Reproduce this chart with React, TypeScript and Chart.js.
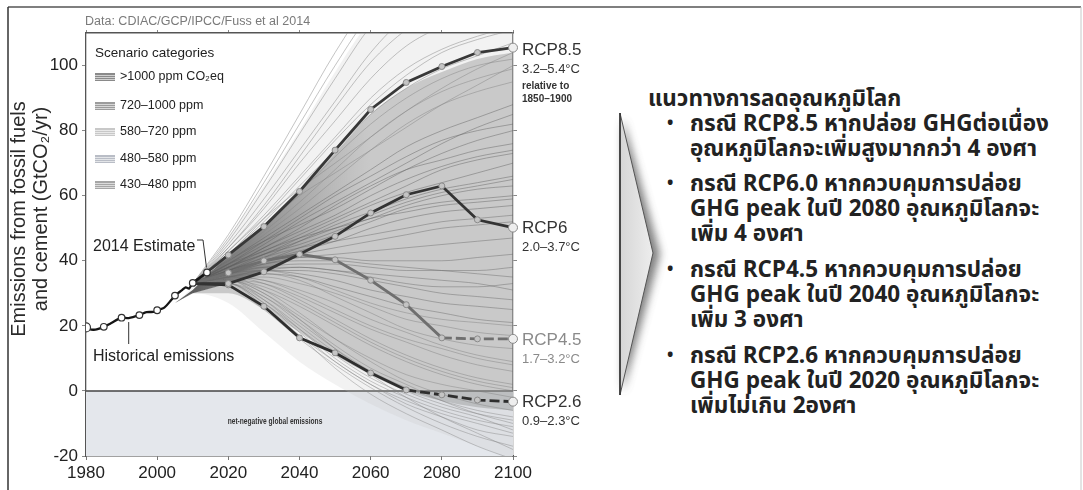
import React, { useEffect, useRef } from 'react';
import { Chart, registerables } from 'chart.js';

Chart.register(...registerables);

// ---------------- data ----------------
const histYears = [1980, 1981, 1982, 1983, 1985, 1987, 1990, 1992, 1995, 1997, 1999, 2000, 2002, 2004, 2005, 2007, 2008, 2009, 2010, 2012, 2014];
const histValues = [19.5, 19.0, 18.8, 18.9, 19.7, 20.8, 22.5, 22.4, 23.3, 24.2, 24.3, 24.8, 25.6, 28.0, 29.3, 31.0, 31.8, 31.5, 33.2, 34.8, 36.4];
const histMarkerYears = [1980, 1985, 1990, 1995, 2000, 2005, 2010, 2014];

const rcpYears = [2010, 2020, 2030, 2040, 2050, 2060, 2070, 2080, 2090, 2100];
const rcp85 = [33, 41.8, 50.5, 61.3, 74, 86.5, 94.8, 99.7, 104, 105.5];
const rcp6 = [33, 33, 36.6, 42, 47.5, 54.7, 60.3, 63, 52.6, 50.2];
const rcp45 = [33, 36.3, 40, 42, 40.3, 34, 26.5, 16.3, 16, 16];
const rcp26 = [33, 32.6, 26, 16.3, 11.7, 5.5, 0.3, -1.2, -2.8, -3.3];

const bandYears = [2005, 2010, 2020, 2030, 2040, 2050, 2060, 2070, 2080, 2090, 2100];
const outerUpper = [27, 32, 47, 63, 80, 98, 114, 124, 130, 134, 137];
const outerLower = [27, 30, 27, 18, 9, 2, -4, -9, -13, -17, -21];
const coreUpper = [27, 31, 42, 51, 61, 73, 85, 93, 98, 102, 104];
const coreLower = [27, 30, 30, 25, 18, 11, 5, 0, -3, -5, -6];

const wedgeYears = [2005, 2010, 2020, 2030, 2040, 2050, 2060];
const wedgeUpper = [27, 31, 41.8, 50.5, 61.3, 74, 86.5];
const wedgeLower = [27, 30, 33, 36.6, 42, 47.5, 54.7];

const scenYears = [2010, 2020, 2030, 2040, 2050, 2060, 2070, 2080, 2090, 2100];
const scen1000 = [
  [33, 48, 66, 85, 104, 120, 130, 135, 138, 140],
  [33, 47, 64, 82, 100, 116, 126, 132, 135, 137],
  [33, 46, 62, 79, 96, 112, 122, 128, 131, 133],
  [33, 45, 59, 74, 89, 104, 115, 121, 124, 126],
  [33, 44, 57, 72, 87, 101, 111, 117, 121, 123],
  [33, 44, 56, 70, 83, 96, 106, 112, 116, 118],
  [33, 43, 54, 66, 78, 90, 99, 105, 109, 112],
  [33, 42, 53, 65, 77, 88, 97, 104, 108, 111],
  [33, 42, 52, 63, 74, 85, 93, 99, 103, 107],
  [33, 43, 53, 62, 70, 78, 86, 93, 99, 104],
  [33, 41, 50, 61, 72, 82, 90, 96, 100, 102],
  [33, 41, 49, 58, 68, 78, 86, 92, 96, 99],
  [33, 42, 51, 60, 67, 74, 81, 88, 94, 100],
  [33, 40, 48, 56, 65, 74, 82, 88, 92, 95],
];
const scen720 = [
  [33, 40, 47, 54, 61, 68, 75, 80, 84, 88],
  [33, 39, 46, 53, 60, 66, 72, 77, 80, 82],
  [33, 39, 45, 52, 58, 64, 70, 76, 81, 85],
  [33, 40, 46, 51, 56, 62, 68, 73, 77, 80],
  [33, 38, 44, 50, 57, 63, 68, 71, 74, 76],
  [33, 38, 44, 49, 54, 60, 65, 69, 72, 74],
  [33, 39, 43, 48, 53, 58, 63, 68, 71, 73],
  [33, 38, 42, 47, 52, 57, 61, 64, 67, 70],
  [33, 37, 41, 46, 51, 55, 59, 62, 64, 66],
  [33, 37, 42, 46, 50, 54, 58, 61, 63, 65],
  [33, 38, 43, 47, 50, 53, 57, 60, 62, 63],
  [33, 37, 40, 44, 48, 52, 56, 58, 59, 60],
  [33, 38, 42, 45, 49, 53, 55, 57, 58, 59],
  [33, 36, 40, 43, 46, 50, 53, 55, 56, 57],
];
const scen580 = [
  [33, 37, 41, 44, 46, 48, 50, 52, 53, 54],
  [33, 37, 40, 42, 44, 46, 48, 50, 51, 52],
  [33, 36, 39, 41, 42, 43, 44, 45, 46, 47],
  [33, 37, 40, 41, 41, 40, 40, 40, 41, 42],
  [33, 36, 39, 40, 40, 39, 38, 37, 36, 35],
  [33, 36, 38, 39, 39, 38, 37, 37, 37, 38],
  [33, 36, 38, 38, 37, 35, 33, 32, 32, 33],
  [33, 35, 37, 38, 37, 36, 35, 34, 33, 31],
  [33, 35, 37, 37, 36, 34, 32, 30, 29, 28],
  [33, 36, 37, 36, 34, 31, 29, 27, 26, 25],
  [33, 35, 36, 35, 32, 29, 26, 24, 22, 21],
];
const scen480 = [
  [33, 36, 37, 35, 31, 27, 24, 22, 21, 20],
  [33, 35, 35, 33, 30, 26, 22, 20, 18, 17],
  [33, 36, 36, 34, 29, 24, 19, 16, 14, 13],
  [33, 35, 34, 31, 27, 22, 18, 14, 11, 9],
  [33, 35, 34, 30, 25, 20, 16, 13, 10, 8],
  [33, 34, 33, 29, 24, 19, 15, 11, 8, 6],
  [33, 35, 33, 28, 22, 16, 11, 7, 4, 2],
  [33, 34, 32, 27, 21, 15, 10, 6, 3, 1],
  [33, 34, 31, 26, 20, 14, 9, 5, 2, 0],
];
const scen430 = [
  [33, 34, 30, 23, 16, 10, 5, 2, 0, -2],
  [33, 35, 31, 24, 16, 9, 3, -1, -4, -6],
  [33, 33, 28, 20, 12, 6, 1, -3, -6, -8],
  [33, 33, 29, 21, 13, 6, 0, -4, -7, -9],
  [33, 34, 28, 19, 10, 3, -2, -6, -9, -11],
  [33, 33, 27, 19, 11, 4, -1, -5, -8, -12],
  [33, 32, 26, 17, 9, 2, -3, -7, -10, -13],
  [33, 33, 27, 18, 9, 2, -4, -8, -12, -14],
  [33, 32, 25, 16, 8, 1, -5, -10, -14, -17],
  [33, 34, 30, 22, 13, 5, -2, -8, -13, -18],
  [33, 33, 26, 17, 7, -1, -7, -12, -17, -21],
  [33, 34, 29, 22, 14, 7, 2, -3, -7, -10],
];

const xTicks = [1980, 2000, 2020, 2040, 2060, 2080, 2100];
const yTicks = [-20, 0, 20, 40, 60, 80, 100];

const legendTitle = 'Scenario categories';
const legendItems = ['>1000 ppm CO\u2082eq', '720\u20131000 ppm', '580\u2013720 ppm', '480\u2013580 ppm', '430\u2013480 ppm'];

const rcpLabels = [
  { name: 'RCP8.5', range: '3.2\u20135.4\u00B0C' },
  { name: 'RCP6', range: '2.0\u20133.7\u00B0C' },
  { name: 'RCP4.5', range: '1.7\u20133.2\u00B0C' },
  { name: 'RCP2.6', range: '0.9\u20132.3\u00B0C' },
];

const thaiTitle = 'แนวทางการลดอุณหภูมิโลก';
const thaiBullets = [
  ['กรณี RCP8.5 หากปล่อย GHGต่อเนื่อง', 'อุณหภูมิโลกจะเพิ่มสูงมากกว่า 4 องศา'],
  ['กรณี RCP6.0 หากควบคุมการปล่อย', 'GHG peak ในปี 2080 อุณหภูมิโลกจะ', 'เพิ่ม 4 องศา'],
  ['กรณี RCP4.5 หากควบคุมการปล่อย', 'GHG peak ในปี 2040 อุณหภูมิโลกจะ', 'เพิ่ม 3 องศา'],
  ['กรณี RCP2.6 หากควบคุมการปล่อย', 'GHG peak ในปี 2020 อุณหภูมิโลกจะ', 'เพิ่มไม่เกิน 2องศา'],
];

// ---------------- helpers ----------------
const FONT = '"Liberation Sans", Arial, Helvetica, sans-serif';
const NARROW = '"Liberation Sans Narrow", "Liberation Sans", Arial, sans-serif';
const THAI = 'Tahoma, "Noto Sans Thai", "Noto Sans Thai UI", "Noto Looped Thai", Loma, Garuda, "Noto Sans", sans-serif';

const xy = (xs: number[], ys: number[]) => xs.map((x, i) => ({ x, y: ys[i] }));

const annotations = {
  id: 'annotations',
  beforeDatasetsDraw(chart: any) {
    const { ctx, chartArea: a, scales } = chart;
    const y0 = scales.y.getPixelForValue(0);
    ctx.save();
    ctx.fillStyle = '#e4e7ec';
    ctx.fillRect(a.left, y0, a.right - a.left, a.bottom - y0);
    ctx.strokeStyle = '#444';
    ctx.lineWidth = 1.5;
    ctx.beginPath();
    ctx.moveTo(a.left, y0);
    ctx.lineTo(a.right, y0);
    ctx.stroke();
    ctx.restore();
  },
  afterDraw(chart: any) {
    const { ctx, chartArea: a, scales } = chart;
    const X = (v: number) => scales.x.getPixelForValue(v);
    const Y = (v: number) => scales.y.getPixelForValue(v);
    ctx.save();
    ctx.textBaseline = 'middle';

    // data source
    ctx.fillStyle = '#7a7a7a';
    ctx.font = `12.5px ${NARROW}`;
    ctx.textAlign = 'left';
    ctx.fillText('Data: CDIAC/GCP/IPCC/Fuss et al 2014', 85, 22);

    // y title
    ctx.fillStyle = '#2a2a2a';
    ctx.font = `20px ${FONT}`;
    ctx.textAlign = 'center';
    ctx.save();
    ctx.translate(19, 219);
    ctx.rotate(-Math.PI / 2);
    ctx.fillText('Emissions from fossil fuels', 0, 0);
    ctx.restore();
    ctx.save();
    ctx.translate(41, 209);
    ctx.rotate(-Math.PI / 2);
    ctx.fillText('and cement (GtCO\u2082/yr)', 0, 0);
    ctx.restore();

    // legend
    ctx.textAlign = 'left';
    ctx.fillStyle = '#222';
    ctx.font = `13.5px ${FONT}`;
    ctx.fillText(legendTitle, 95, 53);
    const swatch = ['#8a8a8a', '#9c9c9c', '#c8c8c8', '#b9bdc6', '#a6a6a6'];
    const itemY = [77, 106, 132, 159, 185];
    ctx.font = `12.5px ${FONT}`;
    legendItems.forEach((t, i) => {
      const yy = itemY[i];
      ctx.fillStyle = swatch[i];
      ctx.fillRect(95, yy - 4, 20, 8);
      ctx.strokeStyle = 'rgba(255,255,255,0.6)';
      ctx.lineWidth = 1;
      for (let k = -2; k <= 2; k += 2) {
        ctx.beginPath();
        ctx.moveTo(95, yy + k + 0.5);
        ctx.lineTo(115, yy + k + 0.5);
        ctx.stroke();
      }
      ctx.fillStyle = '#222';
      ctx.fillText(t, 120, yy);
    });

    // 2014 estimate
    ctx.font = `16px ${FONT}`;
    ctx.fillStyle = '#222';
    ctx.fillText('2014 Estimate', 93, 247);
    ctx.strokeStyle = '#333';
    ctx.lineWidth = 1;
    ctx.beginPath();
    ctx.moveTo(197, 240);
    ctx.lineTo(203, 240);
    ctx.lineTo(X(2014) - 0.5, Y(36.4) - 5);
    ctx.stroke();

    // historical emissions
    ctx.fillText('Historical emissions', 93, 357);
    ctx.beginPath();
    ctx.moveTo(X(1992), Y(22.4) + 4);
    ctx.lineTo(X(1992), 344);
    ctx.stroke();

    // net negative
    ctx.save();
    ctx.translate(275, 422);
    ctx.scale(0.78, 1);
    ctx.font = `bold 8.5px ${NARROW}`;
    ctx.textAlign = 'center';
    ctx.fillStyle = '#333';
    ctx.fillText('net-negative global emissions', 0, 0);
    ctx.restore();

    // RCP labels
    ctx.textAlign = 'left';
    const x0 = a.right + 9;
    const labelY = [50, 228, 340, 402];
    rcpLabels.forEach((r, i) => {
      ctx.fillStyle = i === 2 ? '#8a8a8a' : '#333';
      ctx.font = `17px ${FONT}`;
      ctx.fillText(r.name, x0, labelY[i]);
      ctx.font = `13px ${FONT}`;
      ctx.fillText(r.range, x0, labelY[i] + 19);
    });
    ctx.fillStyle = '#333';
    ctx.font = `bold 10px ${NARROW}`;
    ctx.fillText('relative to', x0, 86);
    ctx.fillText('1850\u20131900', x0, 99);
    ctx.restore();
  },
};

export default function App() {
  const ref = useRef<HTMLCanvasElement | null>(null);

  useEffect(() => {
    if (!ref.current) return;
    const datasets: any[] = [];

    datasets.push({
      data: xy(histYears, histValues),
      borderColor: '#151515',
      borderWidth: 2.3,
      pointRadius: histYears.map((y) => (histMarkerYears.includes(y) ? (y === 1980 ? 4.5 : 3.3) : 0)),
      pointBackgroundColor: '#ffffff',
      pointBorderColor: '#333',
      pointBorderWidth: 1.2,
      tension: 0.3,
      fill: false,
      order: 0,
    });

    const rcpStyle = (vals: number[], color: string, dashFrom: number | null) => ({
      data: xy(rcpYears, vals),
      borderColor: color,
      borderWidth: 2.8,
      pointRadius: rcpYears.map((_, i) => (i === 0 ? 0 : i === rcpYears.length - 1 ? 4.5 : 3)),
      pointBackgroundColor: rcpYears.map((_, i) => (i === rcpYears.length - 1 ? '#eeeeee' : '#c4c4c4')),
      pointBorderColor: '#8a8a8a',
      pointBorderWidth: 1,
      tension: 0,
      fill: false,
      order: 1,
      clip: false,
      segment: dashFrom === null ? undefined : {
        borderDash: (c: any) => (c.p0.parsed.x >= dashFrom ? [10, 4] : undefined),
      },
    });
    datasets.push(rcpStyle(rcp85, '#383838', null));
    datasets.push(rcpStyle(rcp6, '#333333', null));
    datasets.push(rcpStyle(rcp45, '#6f6f6f', 2080));
    datasets.push(rcpStyle(rcp26, '#2e2e2e', 2070));

    const scenGroups: [number[][], string][] = [
      [scen1000, 'rgba(135,135,135,0.55)'],
      [scen720, 'rgba(95,95,95,0.5)'],
      [scen580, 'rgba(105,105,105,0.5)'],
      [scen480, 'rgba(120,120,120,0.45)'],
      [scen430, 'rgba(125,125,125,0.45)'],
    ];
    scenGroups.forEach(([lines, color]) => {
      lines.forEach((vals) => {
        datasets.push({
          data: xy(scenYears, vals),
          borderColor: color,
          borderWidth: 0.9,
          pointRadius: 0,
          cubicInterpolationMode: 'monotone',
          fill: false,
          order: 5,
        });
      });
    });

    const addBand = (xs: number[], lo: number[], hi: number[], color: any, order: number) => {
      const loIdx = datasets.length;
      datasets.push({ data: xy(xs, lo), borderWidth: 0, pointRadius: 0, fill: false, order, cubicInterpolationMode: 'monotone' });
      datasets.push({
        data: xy(xs, hi),
        borderWidth: 0,
        pointRadius: 0,
        order,
        cubicInterpolationMode: 'monotone',
        backgroundColor: color,
        fill: { target: loIdx, above: color, below: color },
      });
    };
    addBand(bandYears, outerLower, outerUpper, 'rgba(195,195,195,0.22)', 12);
    addBand(bandYears, coreLower, coreUpper, 'rgba(140,140,140,0.4)', 11);
    const wedgeColor = (c: any) => {
      const chart = c.chart;
      if (!chart.chartArea) return 'rgba(80,80,80,0.4)';
      const xa = chart.scales.x.getPixelForValue(2005);
      const xb = chart.scales.x.getPixelForValue(2060);
      const g = chart.ctx.createLinearGradient(xa, 0, xb, 0);
      g.addColorStop(0, 'rgba(45,45,45,0.8)');
      g.addColorStop(0.35, 'rgba(75,75,75,0.55)');
      g.addColorStop(1, 'rgba(120,120,120,0)');
      return g;
    };
    const wLo = datasets.length;
    datasets.push({ data: xy(wedgeYears, wedgeLower), borderWidth: 0, pointRadius: 0, fill: false, order: 10 });
    datasets.push({
      data: xy(wedgeYears, wedgeUpper),
      borderWidth: 0,
      pointRadius: 0,
      order: 10,
      backgroundColor: wedgeColor,
      fill: { target: wLo, above: wedgeColor, below: wedgeColor },
    });

    const tickFont = { family: FONT, size: 17 };
    const chart = new Chart(ref.current, {
      type: 'line',
      data: { datasets },
      plugins: [annotations],
      options: {
        animation: false,
        responsive: false,
        events: [],
        layout: { padding: { left: 0, right: 99, top: 27, bottom: 4 } },
        plugins: { legend: { display: false }, tooltip: { enabled: false } },
        scales: {
          x: {
            type: 'linear', min: 1980, max: 2100, position: 'bottom',
            afterBuildTicks: (s: any) => { s.ticks = xTicks.map((v) => ({ value: v })); },
            afterFit: (s: any) => { s.height = 30; },
            ticks: { font: tickFont, color: '#222', padding: 3, maxRotation: 0, autoSkip: false, callback: (v: any) => String(v) },
            grid: { drawOnChartArea: false, drawTicks: true, tickLength: 4, color: '#777' },
            border: { display: true, color: '#444', width: 1.5 },
          },
          x2: {
            type: 'linear', min: 1980, max: 2100, position: 'top',
            afterBuildTicks: (s: any) => { s.ticks = xTicks.map((v) => ({ value: v })); },
            afterFit: (s: any) => { s.height = 6; },
            ticks: { display: false },
            grid: { drawOnChartArea: false, drawTicks: true, tickLength: 3, color: '#888' },
            border: { display: true, color: '#555', width: 1.5 },
          },
          y: {
            type: 'linear', min: -20, max: 110, position: 'left',
            afterBuildTicks: (s: any) => { s.ticks = yTicks.map((v) => ({ value: v })); },
            afterFit: (s: any) => { s.width = 86; },
            ticks: { font: tickFont, color: '#222', padding: 4, callback: (v: any) => String(v) },
            grid: { drawOnChartArea: false, drawTicks: true, tickLength: 4, color: '#888' },
            border: { display: true, color: '#555', width: 1.3 },
          },
          y2: {
            type: 'linear', min: -20, max: 110, position: 'right',
            afterBuildTicks: (s: any) => { s.ticks = yTicks.map((v) => ({ value: v })); },
            afterFit: (s: any) => { s.width = 8; },
            ticks: { display: false },
            grid: { drawOnChartArea: false, drawTicks: true, tickLength: 4, color: '#888' },
            border: { display: true, color: '#777', width: 1.3 },
          },
        },
      } as any,
    });
    return () => chart.destroy();
  }, []);

  const titleCenter = 99;
  const bulletCenters = [124, 184, 270, 356];
  const lineH = 25;

  return (
    <div style={{ position: 'absolute', left: 0, top: 0, width: 1083, height: 490, background: '#fff', overflow: 'hidden' }}>
      <svg width={1083} height={490} style={{ position: 'absolute', left: 0, top: 0 }}>
        <defs>
          <filter id="arrowShadow" x="-100%" y="-20%" width="300%" height="140%">
            <feGaussianBlur stdDeviation="4" />
          </filter>
          <linearGradient id="arrowFill" x1="0" x2="1" y1="0" y2="0">
            <stop offset="0" stopColor="#d6d6d6" />
            <stop offset="1" stopColor="#ededed" />
          </linearGradient>
        </defs>
        <line x1={8} y1={7} x2={1081} y2={7} stroke="#555" strokeWidth={1.5} />
        <line x1={8} y1={7} x2={8} y2={490} stroke="#333" strokeWidth={1.5} />
        <line x1={1081} y1={7} x2={1081} y2={490} stroke="#c8c8c8" strokeWidth={1} />
        <polygon points="623,118 660,254 623,392" fill="#555" opacity={0.75} filter="url(#arrowShadow)" />
        <polygon points="620,113 653,253 620,395" fill="url(#arrowFill)" stroke="#555" strokeWidth={1} />
        <line x1={620} y1={113} x2={620} y2={395} stroke="#333" strokeWidth={1.6} />
      </svg>
      <canvas ref={ref} width={620} height={490} style={{ position: 'absolute', left: 0, top: 0, width: 620, height: 490 }} />
      <div style={{ position: 'absolute', left: 0, top: 0, fontFamily: THAI, fontWeight: 'bold', color: '#222', fontSize: 22.5, whiteSpace: 'nowrap' }}>
        <div style={{ position: 'absolute', left: 648, top: titleCenter - lineH / 2, lineHeight: `${lineH}px` }}>{thaiTitle}</div>
        {thaiBullets.map((lines, bi) => (
          <React.Fragment key={bi}>
            <div style={{ position: 'absolute', left: 667, top: bulletCenters[bi] - lineH / 2, lineHeight: `${lineH}px`, fontSize: 17 }}>•</div>
            {lines.map((t, li) => (
              <div key={li} style={{ position: 'absolute', left: 690, top: bulletCenters[bi] - lineH / 2 + li * lineH, lineHeight: `${lineH}px` }}>{t}</div>
            ))}
          </React.Fragment>
        ))}
      </div>
    </div>
  );
}
